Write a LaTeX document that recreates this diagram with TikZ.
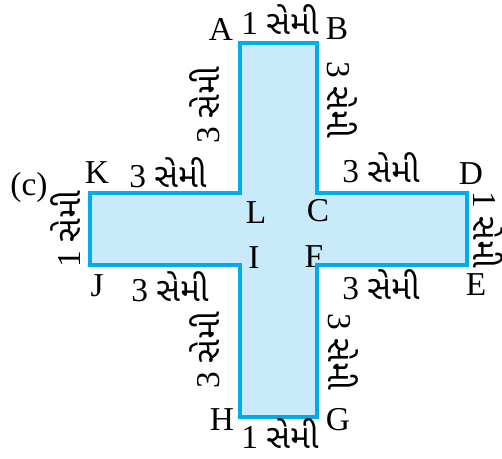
\documentclass[tikz,border=0pt]{standalone}
\usepackage{fontspec}
\setmainfont{Liberation Serif}
\newfontfamily\gujfont[Script=Gujarati]{Noto Sans Gujarati UI}
\usetikzlibrary{positioning}
\definecolor{CrossFill}{RGB}{200,234,250}
\definecolor{CrossEdge}{RGB}{0,172,236}
\newcommand{\semi}[1]{#1\ {\gujfont સેમી}}

\begin{document}
\begin{tikzpicture}[x=0.02cm, y=-0.02cm, font=\fontsize{19}{22}\selectfont,
    lbl/.style={inner sep=0pt},
    upl/.style={inner sep=0pt, rotate=90},
    dnl/.style={inner sep=0pt, rotate=-90}]
    \useasboundingbox (0,0) rectangle (502,458);
    % corners of the cross
    \coordinate (A) at (240,43);  \coordinate (B) at (317,43);
    \coordinate (C) at (317,193); \coordinate (D) at (467,193);
    \coordinate (E) at (467,265); \coordinate (F) at (317,265);
    \coordinate (G) at (317,417); \coordinate (H) at (240,417);
    \coordinate (I) at (240,265); \coordinate (J) at (90,265);
    \coordinate (K) at (90,193);  \coordinate (L) at (240,193);
    \draw[CrossEdge, fill=CrossFill, line width=2pt]
        (A) -- (B) -- (C) -- (D) -- (E) -- (F) -- (G) -- (H) -- (I) -- (J) -- (K) -- (L) -- cycle;
    % corner letters
    \node[lbl] (nA) at (221,29)  {A};
    \node[lbl] (nB) at (337,29)  {B};
    \node[lbl] (nC) at (318,211) {C};
    \node[lbl] (nD) at (471,174) {D};
    \node[lbl] (nE) at (476,285) {E};
    \node[lbl] (nF) at (314,257) {F};
    \node[lbl] (nG) at (338,420) {G};
    \node[lbl] (nH) at (222,420) {H};
    \node[lbl] (nI) at (254,258) {I};
    \node[lbl] (nJ) at (97,286)  {J};
    \node[lbl] (nK) at (97,173)  {K};
    \node[lbl] (nL) at (256,213) {L};
    \node[lbl] (nc) at (29,187)  {(c)};
    % side lengths
    \node[lbl] (sAB) at (280,20)  {\semi{1}};
    \node[upl] (sAL) at (205,105) {\semi{3}};
    \node[dnl] (sBC) at (342,100) {\semi{3}};
    \node[lbl] (sKL) at (168,173) {\semi{3}};
    \node[lbl] (sCD) at (381,168) {\semi{3}};
    \node[upl] (sJK) at (66,229)  {\semi{1}};
    \node[dnl] (sDE) at (488,230) {\semi{1}};
    \node[lbl] (sJI) at (170,287) {\semi{3}};
    \node[lbl] (sFE) at (381,285) {\semi{3}};
    \node[upl] (sHI) at (205,350) {\semi{3}};
    \node[dnl] (sFG) at (343,352) {\semi{3}};
    \node[lbl] (sHG) at (280,434) {\semi{1}};
\end{tikzpicture}
\end{document}
